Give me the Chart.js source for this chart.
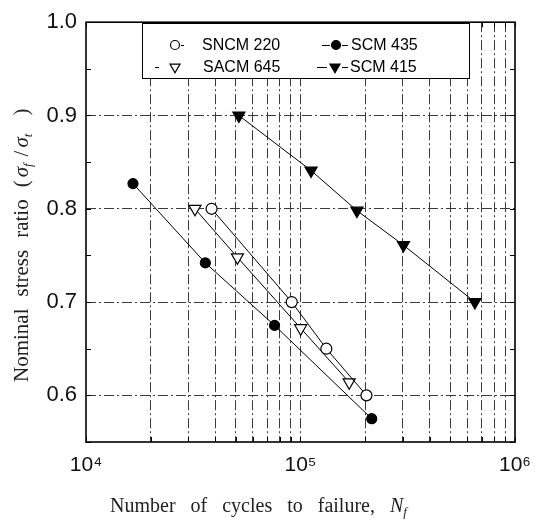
<!DOCTYPE html>
<html>
<head>
<meta charset="utf-8">
<script src="https://cdn.jsdelivr.net/npm/chart.js@4.4.1/dist/chart.umd.min.js"></script>
<style>
html,body{margin:0;padding:0;background:#fff;}
#wrap{width:542px;height:523px;position:relative;}
canvas{display:block;}
</style>
</head>
<body>
<div id="wrap"><canvas id="c" width="542" height="523"></canvas></div>
<script>
// ---- data ----
const seriesNames = ['SNCM 220', 'SCM 435', 'SACM 645', 'SCM 415'];
const sncm220Cycles = [38500, 91000, 132000, 203000];
const sncm220Ratio  = [0.800, 0.700, 0.650, 0.600];
const scm435Cycles  = [16560, 36000, 75700, 214800];
const scm435Ratio   = [0.827, 0.742, 0.675, 0.575];
const sacm645Cycles = [32200, 50800, 100200, 168600];
const sacm645Ratio  = [0.800, 0.748, 0.672, 0.614];
const scm415Cycles  = [51600, 112000, 183300, 302000, 650000];
const scm415Ratio   = [0.900, 0.841, 0.798, 0.761, 0.700];
const xGridValues = [10000,20000,30000,40000,50000,60000,70000,80000,90000,
                     100000,200000,300000,400000,500000,600000,700000,800000,900000,1000000];
const xLabelValues = [10000, 100000, 1000000];
const xLabelTexts  = ['10\u2074', '10\u2075', '10\u2076'];
const yLabelTexts  = ['0.6', '0.7', '0.8', '0.9', '1.0'];
const yMinorStep = 0.05;

function pts(xs, ys){ return xs.map((x,i)=>({x:x, y:ys[i]})); }

const styles = [
  {style:'circle',   fill:'#fff', r:5.5, rot:0},
  {style:'circle',   fill:'#000', r:5,   rot:0},
  {style:'triangle', fill:'#fff', r:7,   rot:180},
  {style:'triangle', fill:'#000', r:7,   rot:180}
];
const dataSets = [pts(sncm220Cycles,sncm220Ratio), pts(scm435Cycles,scm435Ratio),
                  pts(sacm645Cycles,sacm645Ratio), pts(scm415Cycles,scm415Ratio)];

const datasets = dataSets.map((d,i)=>({
  label: seriesNames[i], data: d, showLine: true,
  borderColor:'#000', borderWidth:1,
  pointStyle: styles[i].style, pointRadius: styles[i].r, pointRotation: styles[i].rot,
  pointBackgroundColor: styles[i].fill, pointBorderColor:'#000', pointBorderWidth:1.2,
  pointHoverRadius: styles[i].r
}));

const GRID = '#3a3a3a';
const DASH = [10,3,2,3];

function drawMarker(ctx, style, x, y, r, fill){
  ctx.save();
  ctx.fillStyle = fill; ctx.strokeStyle='#000'; ctx.lineWidth=1.2;
  ctx.beginPath();
  if(style==='circle'){ ctx.arc(x,y,r,0,Math.PI*2); }
  else { // downward triangle
    const a = Math.PI/2;
    for(let k=0;k<3;k++){
      const ang = a + k*2*Math.PI/3;
      const px = x + r*Math.cos(ang), py = y + r*Math.sin(ang);
      if(k===0) ctx.moveTo(px,py); else ctx.lineTo(px,py);
    }
    ctx.closePath();
  }
  ctx.fill(); ctx.stroke();
  ctx.restore();
}

function drawRun(ctx, pieces, x, y){
  let cx = x;
  for(const p of pieces){
    if(p.gap){ cx += p.gap; continue; }
    ctx.font = p.font;
    ctx.fillText(p.t, cx, y + (p.dy||0));
    cx += ctx.measureText(p.t).width;
  }
}

const decorPlugin = {
  id:'decor',
  afterDraw(chart){
    const ctx = chart.ctx, a = chart.chartArea;
    const xs = chart.scales.x, ys = chart.scales.y;
    ctx.save();
    // inner minor ticks on y
    ctx.strokeStyle='#000'; ctx.lineWidth=1;
    for(let v=ys.min; v<=ys.max+1e-9; v+=yMinorStep){
      const py = Math.round(ys.getPixelForValue(v))+0.5;
      ctx.beginPath(); ctx.moveTo(a.left,py); ctx.lineTo(a.left+5,py);
      ctx.moveTo(a.right,py); ctx.lineTo(a.right-5,py); ctx.stroke();
    }
    // inner ticks on x (top & bottom)
    for(const v of xGridValues){
      const px = Math.round(xs.getPixelForValue(v))+0.5;
      ctx.beginPath(); ctx.moveTo(px,a.top); ctx.lineTo(px,a.top+5);
      ctx.moveTo(px,a.bottom); ctx.lineTo(px,a.bottom-5); ctx.stroke();
    }
    // frame
    ctx.lineWidth=1.6; ctx.strokeStyle='#000';
    ctx.strokeRect(a.left, a.top, a.right-a.left, a.bottom-a.top);

    // legend
    const bx=142, by=23, bw=327, bh=55;
    ctx.fillStyle='#fff'; ctx.fillRect(bx,by,bw,bh);
    ctx.lineWidth=1; ctx.strokeStyle='#000'; ctx.strokeRect(bx+0.5,by+0.5,bw,bh);
    ctx.textBaseline='middle'; ctx.fillStyle='#000';
    const legendCells = [
      {i:0, mx:175, y:45, tx:202, dl:null, dr:[181,184]},
      {i:1, mx:336, y:45, tx:351, dl:[322,330], dr:[342,348]},
      {i:2, mx:175, y:67, tx:203, dl:[155,159], dr:null},
      {i:3, mx:335, y:67, tx:350, dl:[317,327], dr:[342,348]}
    ];
    for(const c of legendCells){
      ctx.strokeStyle='#000'; ctx.lineWidth=1;
      ctx.beginPath();
      if(c.dl){ ctx.moveTo(c.dl[0],c.y+0.5); ctx.lineTo(c.dl[1],c.y+0.5); }
      if(c.dr){ ctx.moveTo(c.dr[0],c.y+0.5); ctx.lineTo(c.dr[1],c.y+0.5); }
      ctx.stroke();
      const s = styles[c.i];
      drawMarker(ctx, s.style, c.mx, c.y, s.style==='circle'?4.5:5.8, s.fill);
      ctx.fillStyle='#000';
      ctx.font='16px "Liberation Sans", Arial, sans-serif';
      ctx.fillText(seriesNames[c.i], c.tx, c.y+1);
    }

    // axis titles
    ctx.fillStyle='#222'; ctx.textBaseline='alphabetic';
    const R='20px "Liberation Serif", "Times New Roman", serif';
    const I='italic 20px "Liberation Serif", "Times New Roman", serif';
    const S='italic 13px "Liberation Serif", "Times New Roman", serif';
    drawRun(ctx, [
      {t:'Number',font:R},{gap:15},{t:'of',font:R},{gap:15},{t:'cycles',font:R},{gap:15},
      {t:'to',font:R},{gap:15},{t:'failure,',font:R},{gap:15},{t:'N',font:I},{t:'f',font:S,dy:4}
    ], 110, 512);
    ctx.save();
    ctx.translate(28, 240); ctx.rotate(-Math.PI/2);
    const R2='21px "Liberation Serif", "Times New Roman", serif';
    const I2='italic 21px "Liberation Serif", "Times New Roman", serif';
    drawRun(ctx, [
      {t:'Nominal',font:R2},{gap:12},{t:'stress',font:R2},{gap:12},{t:'ratio',font:R2},{gap:12},
      {t:'(',font:R2},{gap:3},{t:'\u03c3',font:I2},{t:'f',font:S,dy:4},{gap:7},{t:'/',font:R2},{gap:3},
      {t:'\u03c3',font:I2},{t:'t',font:S,dy:4},{gap:18},{t:')',font:R2}
    ], -142, 0);
    ctx.restore();
    ctx.restore();
  }
};

new Chart(document.getElementById('c'), {
  type:'scatter',
  data:{datasets},
  options:{
    responsive:false, animation:false, devicePixelRatio:1,
    layout:{padding:{top:14, right:24, left:0, bottom:0}},
    plugins:{legend:{display:false}, tooltip:{enabled:false}},
    scales:{
      x:{
        type:'logarithmic', min:10000, max:1000000,
        afterBuildTicks(s){ s.ticks = xGridValues.map(v=>({value:v})); },
        afterFit(s){ s.height = 81; },
        ticks:{
          autoSkip:false, maxRotation:0, minRotation:0, padding:11, color:'#111',
          font:{family:'"Liberation Sans", Arial, sans-serif', size:21},
          callback(v){ const k = xLabelValues.indexOf(v); return k>=0 ? xLabelTexts[k] : ''; }
        },
        grid:{drawTicks:false, color(ctx){ const v=ctx.tick&&ctx.tick.value; return (v===10000||v===1000000)?'rgba(0,0,0,0)':GRID; }, lineWidth:1},
        border:{display:false, dash:DASH}
      },
      y:{
        min:0.55, max:1.0,
        afterBuildTicks(s){ const t=[]; for(let k=0;k<=9;k++){ t.push({value:+(0.55+k*yMinorStep).toFixed(2)}); } s.ticks=t; },
        afterFit(s){ s.width = 86; },
        ticks:{
          autoSkip:false, padding:9, color:'#111',
          font:{family:'"Liberation Sans", Arial, sans-serif', size:22},
          callback(v){ const l = v.toFixed(1); const r = Math.round(v*100); return (r%10===0 && yLabelTexts.includes(l)) ? l : ''; }
        },
        grid:{drawTicks:false, color(ctx){ const v=ctx.tick?Math.round(ctx.tick.value*100):0; return (v%10===0 && v<100)?GRID:'rgba(0,0,0,0)'; }, lineWidth:1},
        border:{display:false, dash:DASH}
      }
    }
  },
  plugins:[decorPlugin]
});
</script>
</body>
</html>
